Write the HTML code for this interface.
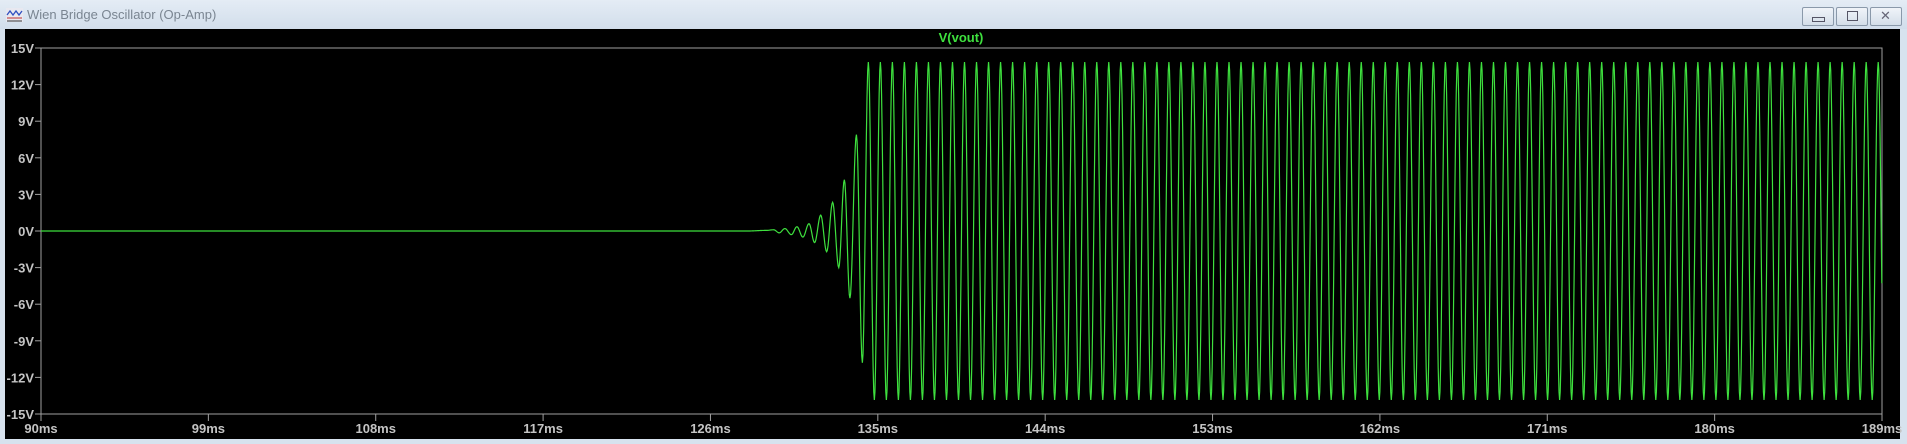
<!DOCTYPE html>
<html><head><meta charset="utf-8"><style>
html,body{margin:0;padding:0;}
body{width:1907px;height:444px;overflow:hidden;background:#d7e2ee;font-family:"Liberation Sans",sans-serif;position:relative;}
#titlebar{position:absolute;left:0;top:0;width:1907px;height:29px;background:linear-gradient(#e4ecf5,#d2deeb);}
#title{position:absolute;left:27px;top:7px;font-size:13px;color:#7a8591;}
.btn{position:absolute;top:7px;width:30px;height:17px;border:1px solid #8a99aa;border-radius:2px;background:linear-gradient(#f0f4f9,#d4dee9);}
#plot{position:absolute;left:5px;top:29px;width:1895px;height:410px;background:#000;}
</style></head><body>
<div id="titlebar">
 <svg style="position:absolute;left:6px;top:8px" width="17" height="14"><rect x="0" y="0" width="17" height="14" fill="#e8e8f0"/><polyline points="1,7 4,3 7,7 10,3 13,7 16,3" fill="none" stroke="#3050c0" stroke-width="1.3"/><line x1="1" y1="10" x2="16" y2="10" stroke="#c03030"/><line x1="1" y1="13" x2="16" y2="13" stroke="#333"/></svg>
 <div id="title">Wien Bridge Oscillator (Op-Amp)</div>
 <div class="btn" style="left:1802px"><div style="position:absolute;left:9px;top:9px;width:11px;height:3px;border:1px solid #556"></div></div>
 <div class="btn" style="left:1836px"><div style="position:absolute;left:10px;top:3px;width:9px;height:8px;border:1px solid #556"></div></div>
 <div class="btn" style="left:1870px"><div style="position:absolute;left:9px;top:0px;font-size:13px;color:#667">✕</div></div>
</div>
<div id="plot"></div>
<svg id="chart" width="1907" height="444" style="position:absolute;left:0;top:0"></svg>
<script>
const yTicks=[15,12,9,6,3,0,-3,-6,-9,-12,-15];
const xTicks=[90,99,108,117,126,135,144,153,162,171,180,189];
// growth extrema (ms, V)
const growthT=[128.0,129.0,129.4,129.7,130.0,130.35,130.65,130.97,131.3,131.6,131.93,132.25,132.57,132.9,133.2,133.5,133.85,134.17];
const growthV=[0,0.05,0.1,-0.15,0.2,-0.3,0.35,-0.5,0.6,-0.95,1.3,-1.7,2.35,-3.0,4.2,-5.5,7.9,-10.8];
const steadyStart=[134.49];
const steadyPeriod=[0.6465];
const steadyAmp=[13.85];
const seriesName=["V(vout)"];

const NS="http://www.w3.org/2000/svg";
const svg=document.getElementById('chart');
const L=41,R=1882,T=48,B=414;
const x=t=>L+(t-90)/(189-90)*(R-L);
const y=v=>T+(15-v)/30*(B-T);
function mk(tag,attrs){const e=document.createElementNS(NS,tag);for(const k in attrs)e.setAttribute(k,attrs[k]);svg.appendChild(e);return e;}
const frame=mk('rect',{x:L,y:T,width:R-L,height:B-T,fill:'none',stroke:'#a0a0a0','stroke-width':1});


yTicks.forEach(v=>{
 const tk=mk('line',{x1:L-6,x2:L,y1:y(v),y2:y(v),stroke:'#a0a0a0'});
 
 
 const tx=mk('text',{x:L-7,y:y(v)+5,'text-anchor':'end','font-size':13,'font-weight':'bold',fill:'#c4c4c4','font-family':'Liberation Sans, sans-serif'});
 tx.textContent=v+'V';
 
 
});
xTicks.forEach(t=>{
 const tk=mk('line',{x1:x(t),x2:x(t),y1:B,y2:B+7,stroke:'#a0a0a0'});
 
 
 const tx=mk('text',{x:x(t),y:B+19,'text-anchor':'middle','font-size':13,'font-weight':'bold',fill:'#c4c4c4','font-family':'Liberation Sans, sans-serif'});
 tx.textContent=t+'ms';
 
 
});
const lg=mk('text',{x:961,y:42,'text-anchor':'middle','font-size':13,'font-weight':'bold',fill:'#3ee03e','font-family':'Liberation Sans, sans-serif'});
lg.textContent=seriesName[0];


// build extrema list
const eT=[90].concat(growthT), eV=[0].concat(growthV);
let k=0;
for(let t=steadyStart[0];t<=189+steadyPeriod[0];t+=steadyPeriod[0]/2){eT.push(t);eV.push(k%2===0?steadyAmp[0]:-steadyAmp[0]);k++;}
let d='M'+x(90)+','+y(0);
for(let i=1;i<eT.length;i++){
 const t0=eT[i-1],t1=eT[i],v0=eV[i-1],v1=eV[i];
 const n=Math.max(2,Math.ceil((x(t1)-x(t0))*1.5));
 for(let j=1;j<=n;j++){
  const f=j/n,t=t0+(t1-t0)*f;if(t>189)break;
  const s=(1-Math.cos(Math.PI*f))/2;
  d+='L'+x(t).toFixed(2)+','+y(v0+(v1-v0)*s).toFixed(2);
 }
}
const p=mk('path',{d:d,fill:'none',stroke:'#3ee03e','stroke-width':1.2});


</script>
</body></html>
